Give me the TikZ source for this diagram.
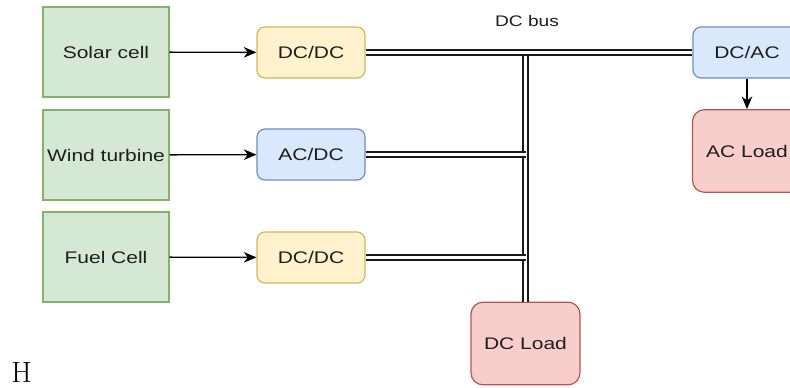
\documentclass[tikz,border=0pt]{standalone}
\usepackage{fontspec}
\newfontfamily\labelfont{Liberation Sans}[FakeStretch=1.25]
\usetikzlibrary{arrows.meta}
\definecolor{gfill}{HTML}{D5E8D4}\definecolor{gdraw}{HTML}{82B366}
\definecolor{yfill}{HTML}{FFF2CC}\definecolor{ydraw}{HTML}{D6B656}
\definecolor{bfill}{HTML}{DAE8FC}\definecolor{bdraw}{HTML}{6C8EBF}
\definecolor{rfill}{HTML}{F8CECC}\definecolor{rdraw}{HTML}{B85450}
\definecolor{txt}{HTML}{1E1E1E}
\tikzset{
  lbl/.style={font=\labelfont\fontsize{12.6}{14}\selectfont, text=txt, inner sep=0pt},
  srcbox/.style={lbl, draw=gdraw, fill=gfill, line width=0.9pt, minimum width=94.5pt, minimum height=67.5pt},
  conv/.style={lbl, rounded corners=6pt, line width=0.9pt, minimum width=81pt, minimum height=38.25pt},
  yconv/.style={conv, draw=ydraw, fill=yfill},
  bconv/.style={conv, draw=bdraw, fill=bfill},
  loadbox/.style={lbl, rounded corners=9pt, line width=0.9pt, draw=rdraw, fill=rfill, minimum width=81.75pt, minimum height=62pt},
  arr/.style={-{Stealth[length=9.5pt,width=8pt]}, line width=1pt, black},
  bus/.style={double=white, draw=black!90, double distance=2.6pt, line width=1pt}
}
\begin{document}
\begin{tikzpicture}[x=0.75pt, y=-0.75pt]
\useasboundingbox (0,0) rectangle (790,387);
\clip (0,0) rectangle (790,387);
\fill[white] (0,0) rectangle (790,387);
% sources
\node[srcbox] (solar) at (106,52) {Solar cell};
\node[srcbox] (wind) at (106,155) {Wind turbine};
\node[srcbox] (fuel) at (106,257) {Fuel Cell};
% converters
\node[yconv] (dcdc1) at (311,52.5) {DC/DC};
\node[bconv] (acdc) at (311,154.5) {AC/DC};
\node[yconv] (dcdc2) at (311,257.5) {DC/DC};
\node[bconv] (dcac) at (747,52.5) {DC/AC};
% loads
\node[loadbox] (acload) at (747,151) {AC Load};
\node[loadbox] (dcload) at (525.5,343.5) {DC Load};
% labels
\node[lbl, font=\labelfont\fontsize{11.5}{13}\selectfont] (buslbl) at (527,21) {DC bus};
\node[inner sep=0pt, font=\fontsize{22}{26}\selectfont] (hh) at (21.5,372) {H};
% arrows
\draw[arr] (solar) -- (dcdc1);
\draw[arr] (wind) -- (acdc);
\draw[arr] (fuel) -- (dcdc2);
\draw[arr] (dcac) -- (acload);
% bus
\coordinate (J) at (525.5,52.5);
\draw[bus] (J) -- (dcload.north);
\draw[bus] (acdc.east) -- (acdc.east -| J);
\draw[bus] (dcdc2.east) -- (dcdc2.east -| J);
\draw[bus] (dcdc1.east) -- (dcac.west);
\end{tikzpicture}
\end{document}
